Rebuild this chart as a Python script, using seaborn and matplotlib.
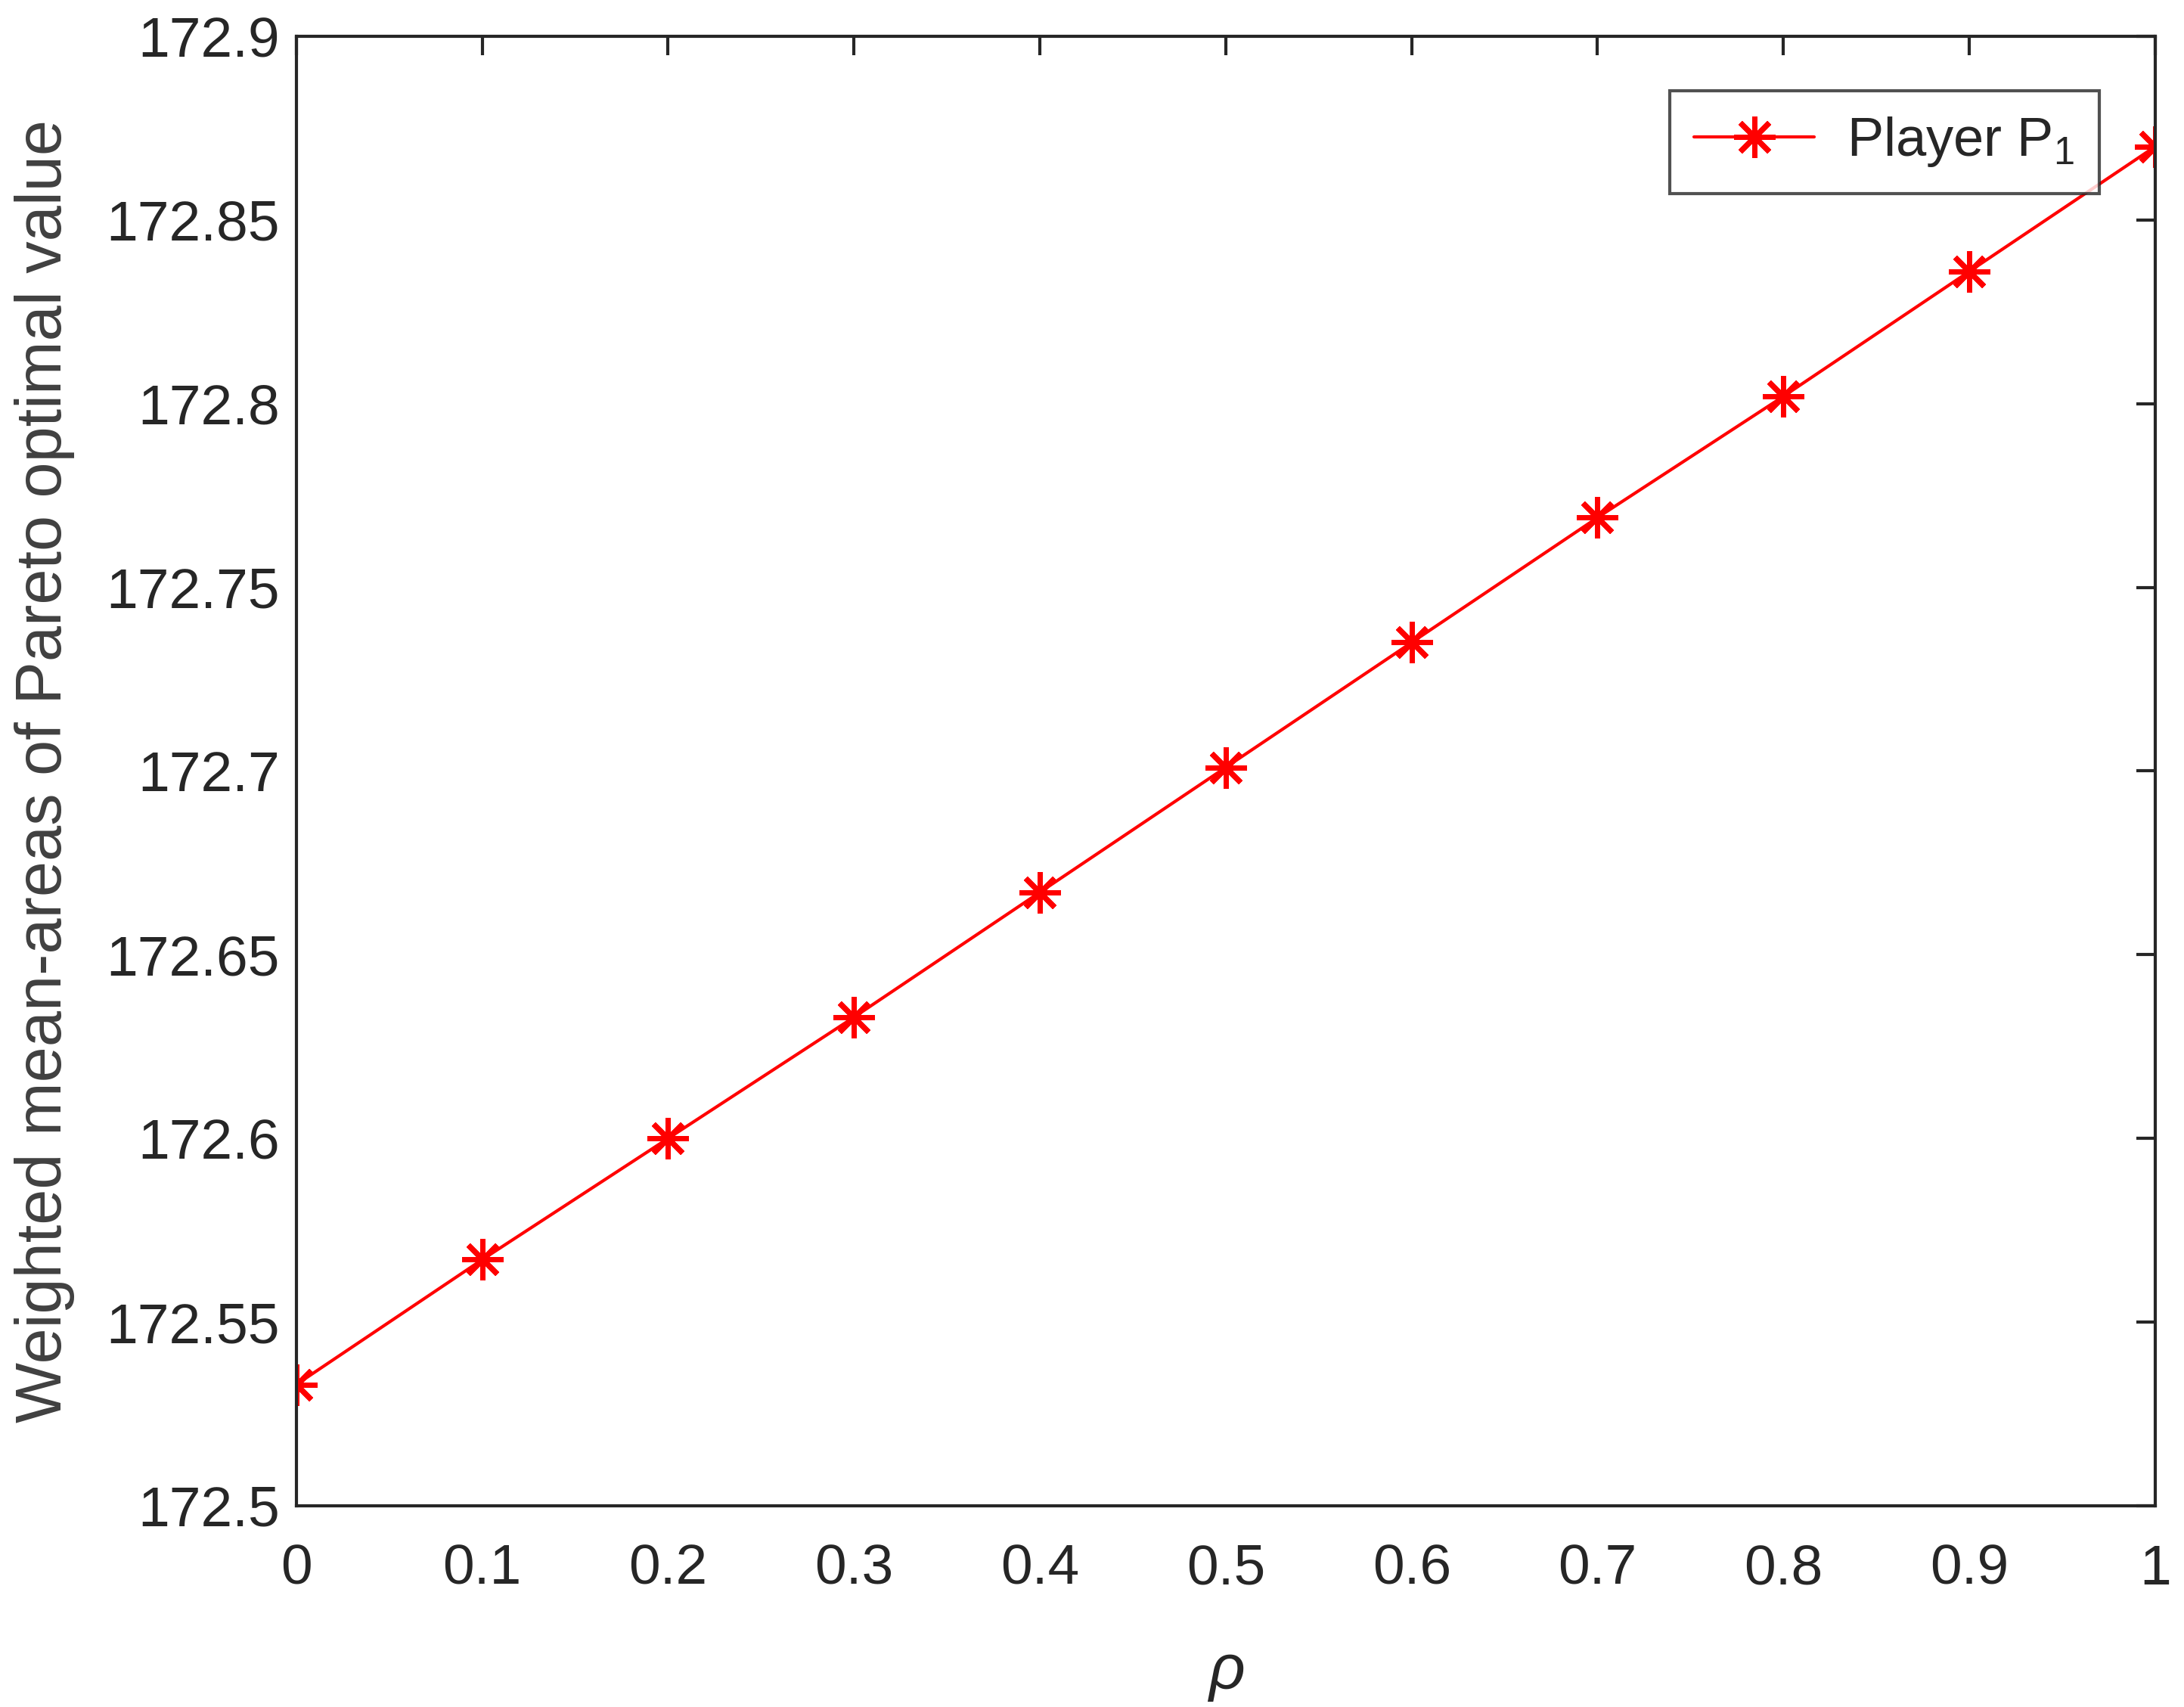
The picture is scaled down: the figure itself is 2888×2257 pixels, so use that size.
import numpy as np
import pandas as pd
import matplotlib
matplotlib.use("Agg")
import matplotlib.pyplot as plt
import seaborn as sns

rho = [0.0, 0.1, 0.2, 0.3, 0.4, 0.5, 0.6, 0.7, 0.8, 0.9, 1.0]
values = [172.533, 172.567, 172.600, 172.633, 172.667, 172.701,
          172.735, 172.769, 172.802, 172.836, 172.870]
series_label = "Player P$_1$"
xticks = [0, 0.1, 0.2, 0.3, 0.4, 0.5, 0.6, 0.7, 0.8, 0.9, 1]
xtick_labels = ["0", "0.1", "0.2", "0.3", "0.4", "0.5", "0.6", "0.7", "0.8", "0.9", "1"]
yticks = [172.5, 172.55, 172.6, 172.65, 172.7, 172.75, 172.8, 172.85, 172.9]
ytick_labels = ["172.5", "172.55", "172.6", "172.65", "172.7", "172.75", "172.8", "172.85", "172.9"]

sns.set_theme(style="white")
plt.rcParams['font.family'] = ['Liberation Sans', 'DejaVu Sans']
plt.rcParams['mathtext.fontset'] = 'custom'
plt.rcParams['mathtext.rm'] = 'Liberation Sans'
plt.rcParams['mathtext.it'] = 'Liberation Sans:italic'

df = pd.DataFrame({"rho": rho, "value": values, "series": series_label})

fig = plt.figure(figsize=(28.88, 22.57), dpi=100)
ax = fig.add_axes([0.1357, 0.1179, 0.9868 - 0.1357, 0.9787 - 0.1179])

sns.lineplot(data=df, x="rho", y="value", hue="series", palette=["#ff0000"],
             marker=(8, 2, 0), markersize=39, markeredgewidth=5,
             markeredgecolor="#ff0000", markerfacecolor="#ff0000",
             linewidth=3, ax=ax, legend=True)

ax.set_xlim(0, 1)
ax.set_ylim(172.5, 172.9)
ax.set_xticks(xticks)
ax.set_xticklabels(xtick_labels)
ax.set_yticks(yticks)
ax.set_yticklabels(ytick_labels)

for s in ax.spines.values():
    s.set_color("#262626")
    s.set_linewidth(3)
    s.set_visible(True)

ax.tick_params(axis="both", which="both", direction="in", length=18, width=3,
               color="#262626", labelsize=54, labelcolor="#262626",
               top=True, right=True)
ax.tick_params(axis="x", pad=36)
ax.tick_params(axis="y", pad=16)

ax.set_xlabel(r"$\rho$", fontsize=60, color="#262626", labelpad=46)
ax.set_ylabel("Weighted mean-areas of Pareto optimal value", fontsize=61,
              color="#404040", labelpad=30)

leg = ax.legend(loc="upper right", bbox_to_anchor=(0.970, 0.963), borderaxespad=0,
                fontsize=52, frameon=True, fancybox=False, edgecolor="#262626",
                handlelength=2.2, borderpad=0.45, handletextpad=0.6)
leg.get_frame().set_linewidth(3)
leg.set_title(None)
for h in leg.legend_handles:
    h.set_markeredgecolor("#ff0000")
    h.set_markersize(39)
    h.set_markeredgewidth(5)

fig.savefig("out.png", dpi=100, facecolor="white")
